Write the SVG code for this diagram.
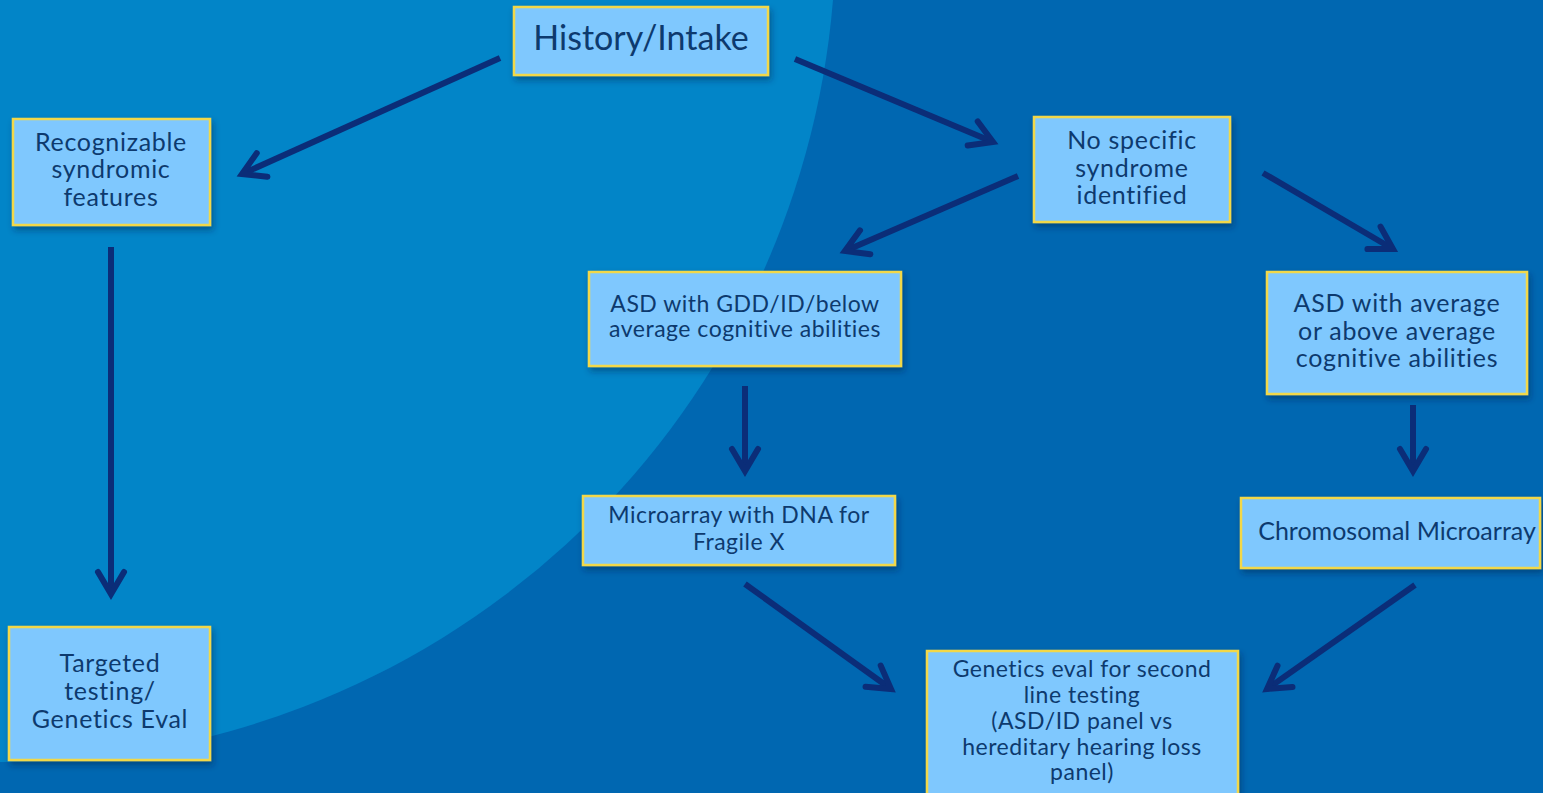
<svg xmlns="http://www.w3.org/2000/svg" width="1543" height="793" viewBox="0 0 1543 793">
<defs>
<style>
.box{fill:#7fc8fe;stroke:#f2d84a;stroke-width:2.5;filter:url(#sh)}
.t{font-family:Lato,"Open Sans","Liberation Sans",sans-serif;fill:#0d3a6e;text-anchor:middle;font-variant-ligatures:none}
.m{font-size:25px;letter-spacing:0.7px}
.s{font-size:23px;letter-spacing:0.5px}
.c{stroke:#0b2d78;stroke-width:6;fill:none;marker-end:url(#ah)}
</style>
<filter id="sh" x="-10%" y="-10%" width="130%" height="140%">
<feDropShadow dx="2" dy="4" stdDeviation="3" flood-color="#00224a" flood-opacity="0.45"/>
</filter>
<marker id="ah" markerUnits="userSpaceOnUse" viewBox="-30 -20 40 40" refX="0" refY="0" markerWidth="40" markerHeight="40" orient="auto" overflow="visible">
<path d="M-22,-13 L0,0 L-22,13" fill="none" stroke="#0b2d78" stroke-width="6" stroke-linecap="round" stroke-linejoin="miter"/>
</marker>
</defs>
<rect x="0" y="0" width="1543" height="793" fill="#0067b1"/>
<path d="M0,0 H833 A830,830 0 0 1 0,762 Z" fill="#0285c8"/>
<g id="connectors">
<line class="c" x1="500" y1="58" x2="242" y2="174"/>
<line class="c" x1="795" y1="59" x2="993" y2="142"/>
<line class="c" x1="111" y1="247" x2="111" y2="594"/>
<line class="c" x1="1018" y1="176" x2="845" y2="251"/>
<line class="c" x1="1263" y1="173" x2="1393" y2="249"/>
<line class="c" x1="745" y1="386" x2="745" y2="471"/>
<line class="c" x1="1413" y1="405" x2="1413" y2="471"/>
<line class="c" x1="745" y1="584" x2="891" y2="689"/>
<line class="c" x1="1415" y1="585" x2="1267" y2="689"/>
</g>
<g id="history">
<rect class="box" x="514" y="7" width="254" height="68"/>
<text class="t" x="641" y="50" font-size="34">History/Intake</text>
</g>
<g id="recognizable">
<rect class="box" x="13" y="119" width="197" height="106"/>
<text class="t m" x="111" y="151">Recognizable</text>
<text class="t m" x="111" y="178">syndromic</text>
<text class="t m" x="111" y="206">features</text>
</g>
<g id="nospecific">
<rect class="box" x="1034" y="117" width="196" height="105"/>
<text class="t m" x="1132" y="149">No specific</text>
<text class="t m" x="1132" y="177">syndrome</text>
<text class="t m" x="1132" y="204">identified</text>
</g>
<g id="asdgdd">
<rect class="box" x="589" y="272" width="312" height="94"/>
<text class="t s" x="745" y="312">ASD with GDD/ID/below</text>
<text class="t s" x="745" y="337">average cognitive abilities</text>
</g>
<g id="asdavg">
<rect class="box" x="1267" y="272" width="260" height="122"/>
<text class="t m" x="1397" y="312">ASD with average</text>
<text class="t m" x="1397" y="340">or above average</text>
<text class="t m" x="1397" y="367">cognitive abilities</text>
</g>
<g id="microarray">
<rect class="box" x="583" y="496" width="312" height="69"/>
<text class="t s" x="739" y="523">Microarray with DNA for</text>
<text class="t s" x="739" y="550">Fragile X</text>
</g>
<g id="chromosomal">
<rect class="box" x="1241" y="498" width="299" height="70"/>
<text class="t" x="1397" y="540" font-size="25">Chromosomal Microarray</text>
</g>
<g id="genetics">
<rect class="box" x="927" y="651" width="311" height="150"/>
<text class="t s" x="1082" y="677">Genetics eval for second</text>
<text class="t s" x="1082" y="703">line testing</text>
<text class="t s" x="1082" y="729">(ASD/ID panel vs</text>
<text class="t s" x="1082" y="755">hereditary hearing loss</text>
<text class="t s" x="1082" y="780">panel)</text>
</g>
<g id="targeted">
<rect class="box" x="9" y="627" width="201" height="133"/>
<text class="t m" x="110" y="672">Targeted</text>
<text class="t m" x="110" y="700">testing/</text>
<text class="t m" x="110" y="728">Genetics Eval</text>
</g>
</svg>
